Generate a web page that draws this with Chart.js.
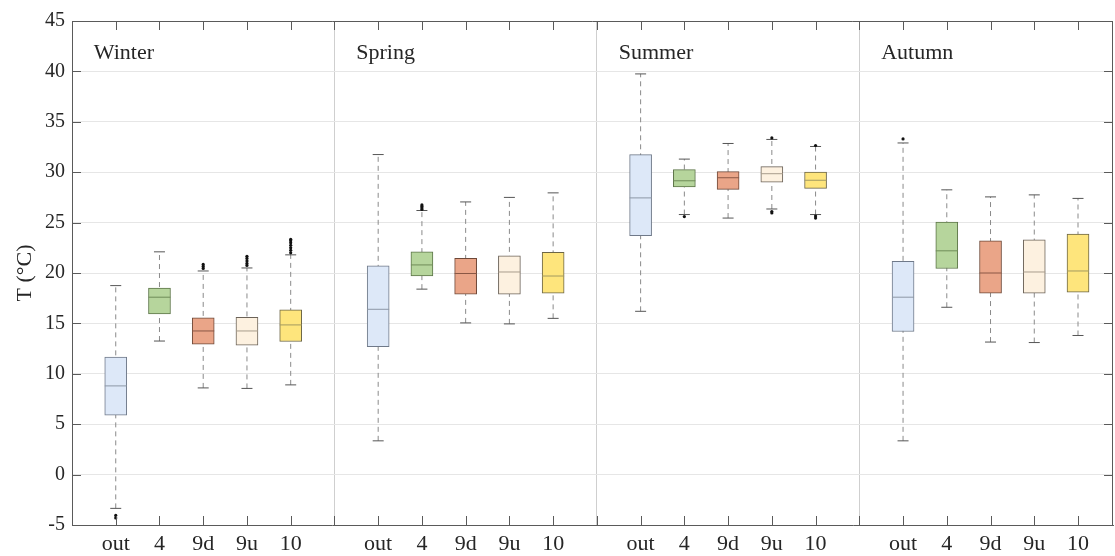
<!DOCTYPE html>
<html>
<head>
<meta charset="utf-8">
<script src="https://cdn.jsdelivr.net/npm/chart.js@4/dist/chart.umd.min.js"></script>
<style>
  html, body { margin: 0; padding: 0; background: #fff; }
  #wrap { width: 1115px; height: 556px; }
</style>
</head>
<body>
<div id="wrap"><canvas id="boxChart"></canvas></div>
<script>
// seasons and sensor positions
const seasons = ['Winter', 'Spring', 'Summer', 'Autumn'];
const sensors = ['out', '4', '9d', '9u', '10'];

// box statistics, season by season (out, 4, 9d, 9u, 10)
const whiskerLow = [
  -3.35, 13.25, 8.6, 8.55, 8.9,
  3.35, 18.4, 15.05, 14.95, 15.5,
  16.2, 25.8, 25.45, 26.35, 25.8,
  3.35, 16.6, 13.15, 13.1, 13.8
];
const q1 = [
  5.9, 15.95, 12.95, 12.85, 13.2,
  12.7, 19.7, 17.9, 17.9, 18.0,
  23.7, 28.55, 28.3, 29.0, 28.4,
  14.2, 20.45, 18.0, 18.0, 18.1
];
const median = [
  8.8, 17.6, 14.25, 14.25, 14.85,
  16.4, 20.8, 19.95, 20.1, 19.7,
  27.45, 29.15, 29.45, 29.85, 29.2,
  17.6, 22.2, 20.0, 20.1, 20.2
];
const q3 = [
  11.65, 18.5, 15.55, 15.6, 16.35,
  20.7, 22.1, 21.45, 21.7, 22.05,
  31.75, 30.25, 30.05, 30.55, 30.0,
  21.15, 25.05, 23.2, 23.3, 23.85
];
const whiskerHigh = [
  18.75, 22.1, 20.2, 20.5, 21.8,
  31.75, 26.2, 27.05, 27.5, 27.95,
  39.75, 31.3, 32.85, 33.25, 32.55,
  32.9, 28.25, 27.55, 27.75, 27.4
];

// outliers: box index and value
const outlierBox = [0, 0, 2, 2, 2, 3, 3, 3, 3, 3, 4, 4, 4, 4, 4, 4, 4,
  6, 6, 6, 6, 11, 13, 13, 13, 14, 14, 14, 15];
const outlierValue = [-4.05, -4.3, 20.45, 20.65, 20.85, 20.75, 20.95, 21.2, 21.45, 21.65,
  22.0, 22.25, 22.5, 22.75, 23.0, 23.2, 23.35,
  26.3, 26.45, 26.6, 26.75, 25.6, 33.4, 26.1, 25.95, 32.65, 25.65, 25.45, 33.3];

const yTicks = { min: -5, max: 45, step: 5 };

const fillColors = ['#dde8f8', '#b6d59c', '#eaa588', '#fdf1e0', '#fee57c'];
const edgeColors = ['#6f7989', '#5c7548', '#6e4838', '#6b6258', '#6b6546'];
const medianColors = ['#8d97a6', '#6f8c58', '#8a5744', '#a89c8c', '#a39a60'];

const FONT = "'Liberation Serif', 'Times New Roman', serif";
const TEXT = '#262626';

// x position of a box: one empty slot between seasons
const pos = i => Math.floor(i / sensors.length) * (sensors.length + 1) + (i % sensors.length) + 1;
const xMax = seasons.length * (sensors.length + 1) - 0.2;

const whiskerData = [];
whiskerLow.forEach((lo, i) => {
  whiskerData.push({ x: pos(i), y: lo }, { x: pos(i), y: whiskerHigh[i] }, { x: pos(i), y: null });
});
const capData = [];
whiskerLow.forEach((lo, i) => {
  capData.push({ x: pos(i), y: lo }, { x: pos(i), y: whiskerHigh[i] });
});

// inward ticks, frame and season names
const framePlugin = {
  id: 'frame',
  afterDraw(chart) {
    const { ctx, chartArea: a, scales: { x, y } } = chart;
    ctx.save();
    ctx.strokeStyle = '#5a5a5a';
    ctx.lineWidth = 1;
    ctx.beginPath();
    x.ticks.forEach(t => {
      const px = Math.round(x.getPixelForValue(t.value)) + 0.5;
      ctx.moveTo(px, a.bottom); ctx.lineTo(px, a.bottom - 9);
      ctx.moveTo(px, a.top); ctx.lineTo(px, a.top + 9);
    });
    y.ticks.forEach(t => {
      const py = Math.round(y.getPixelForValue(t.value)) + 0.5;
      ctx.moveTo(a.left, py); ctx.lineTo(a.left + 9, py);
      ctx.moveTo(a.right, py); ctx.lineTo(a.right - 9, py);
    });
    ctx.moveTo(a.left, a.top + 0.5); ctx.lineTo(a.right, a.top + 0.5);
    ctx.moveTo(a.right - 0.5, a.top); ctx.lineTo(a.right - 0.5, a.bottom);
    ctx.stroke();

    ctx.fillStyle = TEXT;
    ctx.font = '22px ' + FONT;
    ctx.textAlign = 'left';
    ctx.textBaseline = 'alphabetic';
    seasons.forEach((s, g) => {
      ctx.fillText(s, x.getPixelForValue(g * (sensors.length + 1) + 0.5), y.getPixelForValue(41.2));
    });
    ctx.restore();
  }
};

new Chart(document.getElementById('boxChart'), {
  type: 'bar',
  data: {
    datasets: [
      {
        type: 'scatter',
        label: 'outliers',
        data: outlierValue.map((v, i) => ({ x: pos(outlierBox[i]), y: v })),
        pointRadius: 1.6,
        pointBackgroundColor: '#111',
        pointBorderWidth: 0,
        order: 0
      },
      {
        type: 'scatter',
        label: 'median',
        data: median.map((v, i) => ({ x: pos(i), y: v })),
        pointStyle: 'line',
        pointRadius: 11,
        pointBorderWidth: 1,
        pointBorderColor: median.map((v, i) => medianColors[i % sensors.length]),
        order: 1
      },
      {
        type: 'scatter',
        label: 'caps',
        data: capData,
        pointStyle: 'line',
        pointRadius: 5.5,
        pointBorderWidth: 1,
        pointBorderColor: '#555',
        order: 2
      },
      {
        type: 'bar',
        label: 'boxes',
        data: q1.map((v, i) => ({ x: pos(i), y: [v, q3[i]] })),
        backgroundColor: q1.map((v, i) => fillColors[i % sensors.length]),
        borderColor: q1.map((v, i) => edgeColors[i % sensors.length]),
        borderWidth: 1,
        borderSkipped: false,
        barThickness: 22,
        order: 3
      },
      {
        type: 'line',
        label: 'whiskers',
        data: whiskerData,
        borderColor: '#8a8a8a',
        borderWidth: 1,
        borderDash: [5, 4],
        pointRadius: 0,
        spanGaps: false,
        order: 4
      }
    ]
  },
  options: {
    responsive: true,
    maintainAspectRatio: false,
    animation: false,
    layout: { autoPadding: false, padding: { top: 21, right: 2, left: 0, bottom: 0 } },
    plugins: { legend: { display: false }, tooltip: { enabled: false } },
    scales: {
      x: {
        type: 'linear',
        min: 0,
        max: xMax,
        offset: false,
        afterFit: s => { s.height = 31; s.paddingRight = 0; s.paddingLeft = 0; },
        afterBuildTicks: s => {
          const t = [];
          for (let v = 1; v < xMax; v++) t.push({ value: v });
          s.ticks = t;
        },
        grid: {
          offset: false,
          drawTicks: false,
          color: c => (c.tick && c.tick.value % (sensors.length + 1) === 0) ? '#cfcfcf' : 'rgba(0,0,0,0)'
        },
        border: { color: '#5a5a5a' },
        ticks: {
          autoSkip: false,
          maxRotation: 0,
          padding: 6,
          color: TEXT,
          font: { family: FONT, size: 22 },
          callback: v => {
            const k = v % (sensors.length + 1);
            return k === 0 ? '' : sensors[k - 1];
          }
        }
      },
      y: {
        min: yTicks.min,
        max: yTicks.max,
        afterFit: s => { s.width = 72; },
        grid: { color: '#e6e6e6', drawTicks: false },
        border: { color: '#5a5a5a' },
        ticks: {
          stepSize: yTicks.step,
          padding: 7,
          color: TEXT,
          font: { family: FONT, size: 20 }
        },
        title: {
          display: true,
          text: 'T (°C)',
          color: TEXT,
          font: { family: FONT, size: 22 },
          padding: { top: 12, bottom: 0 }
        }
      }
    }
  },
  plugins: [framePlugin]
});
</script>
</body>
</html>
